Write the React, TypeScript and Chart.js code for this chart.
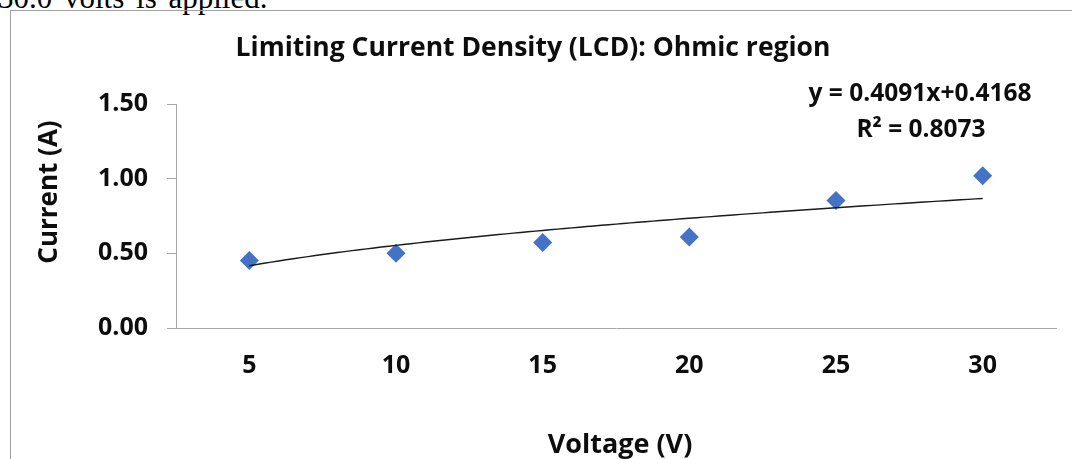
import React, { useEffect, useRef } from 'react';
import { Chart, registerables } from 'chart.js';

Chart.register(...registerables);

// ---- data ----
const voltageLabels = ['5', '10', '15', '20', '25', '30'];
const currentValues = [0.452, 0.5, 0.573, 0.609, 0.854, 1.019];
const yTickValues = [0, 0.5, 1.0, 1.5];
// power trendline shown in the reference: y = coef * n^exp (n = point number)
const trendCoef = 0.4168;
const trendExp = 0.4091;
const equationText = 'y = 0.4091x+0.4168';
const r2Text = 'R² = 0.8073';
const titleText = 'Limiting Current Density (LCD): Ohmic region';
const xTitleText = 'Voltage (V)';
const yTitleText = 'Current (A)';
const topLineText = '30.0 volts is applied.';

const FONT = '"Open Sans", Lato, sans-serif';
const AXIS_GRAY = '#a6a6a6';
const TEXT = '#0d0d0d';

const textPlugin = {
  id: 'textLabels',
  afterDraw(chart: any) {
    const { ctx, chartArea } = chart;
    ctx.save();
    ctx.fillStyle = TEXT;
    ctx.textAlign = 'center';
    ctx.textBaseline = 'alphabetic';
    ctx.font = `bold 26.5px ${FONT}`;
    ctx.fillText(titleText, 533, 56);

    ctx.font = `bold 24.5px ${FONT}`;
    ctx.fillText(equationText, chartArea.right - 136, 101);
    ctx.fillText(r2Text, chartArea.right - 135, 137);

    ctx.font = `bold 27px ${FONT}`;
    ctx.fillText(xTitleText, (chartArea.left + chartArea.right) / 2 + 4, 453);

    ctx.font = `bold 26px ${FONT}`;
    ctx.translate(57, 192);
    ctx.rotate(-Math.PI / 2);
    ctx.fillText(yTitleText, 0, 0);
    ctx.restore();
  },
};

function App() {
  const canvasRef = useRef<HTMLCanvasElement | null>(null);

  useEffect(() => {
    if (!canvasRef.current) return;
    const pointData = currentValues.map((v, i) => ({ x: i + 1, y: v }));
    const trendData: { x: number; y: number }[] = [];
    for (let n = 1; n <= currentValues.length + 1e-9; n += 0.05) {
      trendData.push({ x: n, y: trendCoef * Math.pow(n, trendExp) });
    }

    const chart = new Chart(canvasRef.current, {
      type: 'scatter',
      data: {
        datasets: [
          {
            label: 'Trend',
            data: trendData,
            showLine: true,
            borderColor: '#1a1a1a',
            borderWidth: 1.4,
            pointRadius: 0,
            pointHoverRadius: 0,
            fill: false,
            tension: 0,
          },
          {
            label: 'Current',
            data: pointData,
            pointStyle: 'rectRot',
            pointRadius: 9.5,
            pointBackgroundColor: '#4472C4',
            pointBorderWidth: 0,
            borderWidth: 0,
            showLine: false,
          },
        ],
      },
      options: {
        responsive: false,
        animation: false,
        devicePixelRatio: 1,
        layout: { padding: { left: 0, top: 104, right: 16, bottom: 0 } },
        plugins: {
          legend: { display: false },
          title: { display: false },
          tooltip: { enabled: false },
        },
        scales: {
          x: {
            type: 'linear',
            min: 0.5,
            max: voltageLabels.length + 0.5,
            afterBuildTicks: (s: any) => {
              s.ticks = voltageLabels.map((_, i) => ({ value: i + 1 }));
            },
            afterFit: (s: any) => {
              s.height = 131;
            },
            ticks: {
              callback: (v: any) => voltageLabels[Math.round(Number(v)) - 1] ?? '',
              font: { family: FONT, size: 25, weight: 'bold' },
              color: TEXT,
              padding: 23,
              maxRotation: 0,
            },
            grid: { display: false, drawTicks: false },
            border: { display: true, color: AXIS_GRAY, width: 1 },
          },
          y: {
            type: 'linear',
            min: 0,
            max: 1.5,
            afterBuildTicks: (s: any) => {
              s.ticks = yTickValues.map((v) => ({ value: v }));
            },
            afterFit: (s: any) => {
              s.width = 176;
            },
            ticks: {
              callback: (v: any) => Number(v).toFixed(2),
              font: { family: FONT, size: 25, weight: 'bold' },
              color: TEXT,
              padding: 19,
            },
            grid: {
              drawOnChartArea: false,
              drawTicks: true,
              tickLength: 9,
              color: AXIS_GRAY,
            },
            border: { display: true, color: AXIS_GRAY, width: 1 },
          },
        },
      },
      plugins: [textPlugin],
    } as any);

    return () => chart.destroy();
  }, []);

  return (
    <div
      style={{
        position: 'absolute',
        left: 0,
        top: 0,
        width: 1072,
        height: 459,
        overflow: 'hidden',
        background: '#ffffff',
      }}
    >
      <div
        style={{
          position: 'absolute',
          left: -2,
          top: -18,
          fontFamily: '"Liberation Serif", "Times New Roman", serif',
          fontSize: 31,
          lineHeight: '31px',
          wordSpacing: 4,
          whiteSpace: 'nowrap',
          color: '#000',
        }}
      >
        {topLineText}
      </div>
      <div
        style={{
          position: 'absolute',
          left: 10,
          top: 10,
          width: 1200,
          height: 600,
          border: '1px solid #a0a0a0',
          boxSizing: 'border-box',
        }}
      />
      <canvas
        ref={canvasRef}
        width={1072}
        height={459}
        style={{ position: 'absolute', left: 0, top: 0, width: 1072, height: 459 }}
      />
    </div>
  );
}

export default App;
